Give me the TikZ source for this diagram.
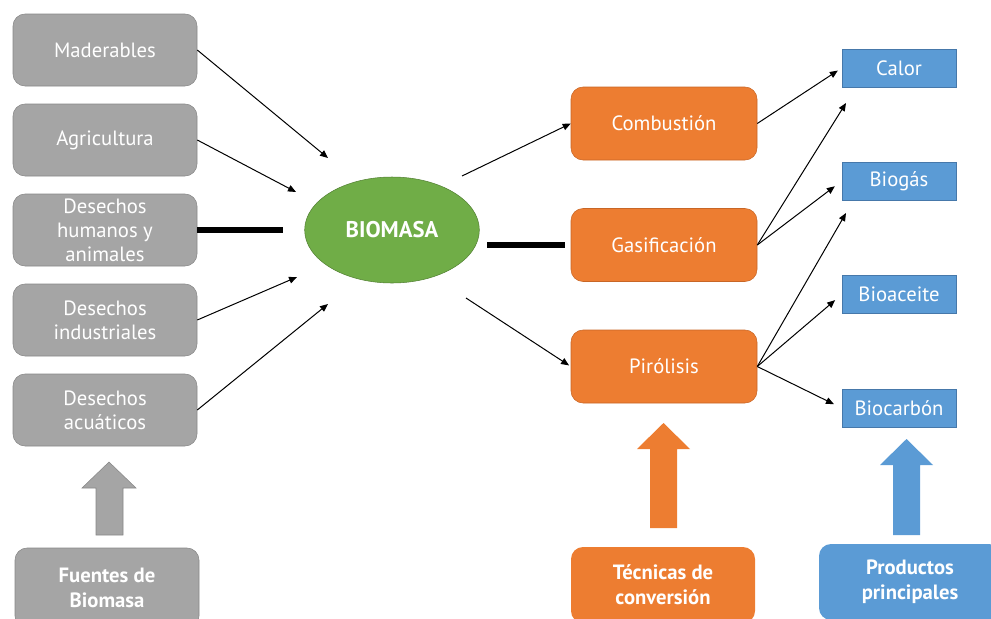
\documentclass[tikz,border=0pt]{standalone}
\usepackage{fontspec}
\setmainfont{PT Sans}
\usetikzlibrary{shapes.geometric,arrows.meta}
\definecolor{gris}{RGB}{165,165,165}
\definecolor{grisborde}{RGB}{135,135,135}
\definecolor{naranja}{RGB}{237,125,49}
\definecolor{naranjaborde}{RGB}{200,102,38}
\definecolor{azul}{RGB}{91,155,213}
\definecolor{azulborde}{RGB}{70,120,170}
\definecolor{verde}{RGB}{112,173,71}
\definecolor{verdeborde}{RGB}{84,130,53}

\begin{document}
\begin{tikzpicture}[x=0.75pt,y=0.75pt,yscale=-1,xscale=1,
	fuente/.style={rectangle,rounded corners=9pt,fill=gris,draw=grisborde,text=white,align=center,
		minimum width=138pt,minimum height=54pt,inner sep=0pt,font=\fontsize{15.5}{18}\selectfont},
	tecnica/.style={rectangle,rounded corners=9pt,fill=naranja,draw=naranjaborde,text=white,align=center,
		minimum width=139.5pt,minimum height=54.75pt,inner sep=0pt,font=\fontsize{15.5}{18}\selectfont},
	producto/.style={rectangle,fill=azul,draw=azulborde,text=white,align=center,
		minimum width=85.5pt,minimum height=28.5pt,inner sep=0pt,font=\fontsize{15.5}{18}\selectfont},
	titulo/.style={rectangle,rounded corners=9pt,text=white,align=center,inner sep=0pt,
		font=\bfseries\fontsize{15.5}{19}\selectfont},
	flecha/.style={-{Triangle[length=6pt,width=5pt]},line width=0.75pt},
	barra/.style={line width=5pt}]
	\clip (0,0) rectangle (991,618);

	% fuentes
	\node[fuente] (mad) at (105,50) {Maderables};
	\node[fuente] (agr) at (105,140) {Agricultura};
	\node[fuente] (hum) at (105,230) {Desechos\\humanos y\\animales};
	\node[fuente] (ind) at (105,320) {Desechos\\industriales};
	\node[fuente] (acu) at (105,410) {Desechos\\acuáticos};
	\node[titulo,fill=gris,draw=grisborde,minimum width=138pt,minimum height=60pt] (fue) at (107,588) {Fuentes de\\Biomasa};

	\node[ellipse,fill=verde,draw=verdeborde,text=white,minimum width=131pt,minimum height=79.5pt,
		font=\bfseries\fontsize{17}{20}\selectfont] (bio) at (392,230) {BIOMASA};

	% tecnicas
	\node[tecnica] (comb) at (664,123.5) {Combustión};
	\node[tecnica] (gas) at (664,245) {Gasificación};
	\node[tecnica] (pir) at (664,366.5) {Pirólisis};
	\node[titulo,fill=naranja,minimum width=138pt,minimum height=57pt] (tec) at (663,585) {Técnicas de\\conversión};

	% productos
	\node[producto] (cal) at (899,68) {Calor};
	\node[producto] (bgas) at (899,181) {Biogás};
	\node[producto] (bac) at (899,294.5) {Bioaceite};
	\node[producto] (bcar) at (899,408) {Biocarbón};
	\node[titulo,fill=azul,minimum width=136.5pt,minimum height=57pt] (prod) at (910,582) {Productos\\principales};

	\coordinate (m1) at (328,158);
	\coordinate (m2) at (296,192);
	\coordinate (m3) at (283,230);
	\coordinate (m4) at (297,277);
	\coordinate (m5) at (328,304);
	\coordinate (b1) at (462,176);
	\coordinate (b2) at (487,245);
	\coordinate (b3) at (466,298);
	\coordinate (c1) at (846,103);
	\coordinate (c2) at (846,213);

	\draw[flecha] (mad.east) -- (m1);
	\draw[flecha] (agr.east) -- (m2);
	\draw[barra] (hum.east) -- (m3);
	\draw[flecha] (ind.east) -- (m4);
	\draw[flecha] (acu.east) -- (m5);

	\draw[flecha] (b1) -- (comb.west);
	\draw[barra,shorten >=4.5pt] (b2) -- (gas.west);
	\draw[flecha,shorten >=1.5pt] (b3) -- (pir.west);

	\draw[flecha,shorten >=3.5pt] (comb.east) -- (cal.west);
	\draw[flecha] (gas.east) -- (c1);
	\draw[flecha,shorten >=6.5pt] (gas.east) -- (bgas.west);
	\draw[flecha] (pir.east) -- (c2);
	\draw[flecha,shorten >=6.5pt] (pir.east) -- (bac.west);
	\draw[flecha,shorten >=6.5pt] (pir.east) -- (bcar.west);

	% flechas grandes
	\draw[fill=gris,draw=grisborde] (109,462) -- (136,488) -- (123,488) -- (123,535) -- (96,535) -- (96,488) -- (82,488) -- cycle;
	\draw[fill=naranja,draw=none] (663.5,423) -- (690,449) -- (677,449) -- (677,528) -- (650,528) -- (650,449) -- (637,449) -- cycle;
	\draw[fill=azul,draw=none] (906.5,439) -- (933,465) -- (920,465) -- (920,535) -- (893,535) -- (893,465) -- (880,465) -- cycle;
\end{tikzpicture}
\end{document}
